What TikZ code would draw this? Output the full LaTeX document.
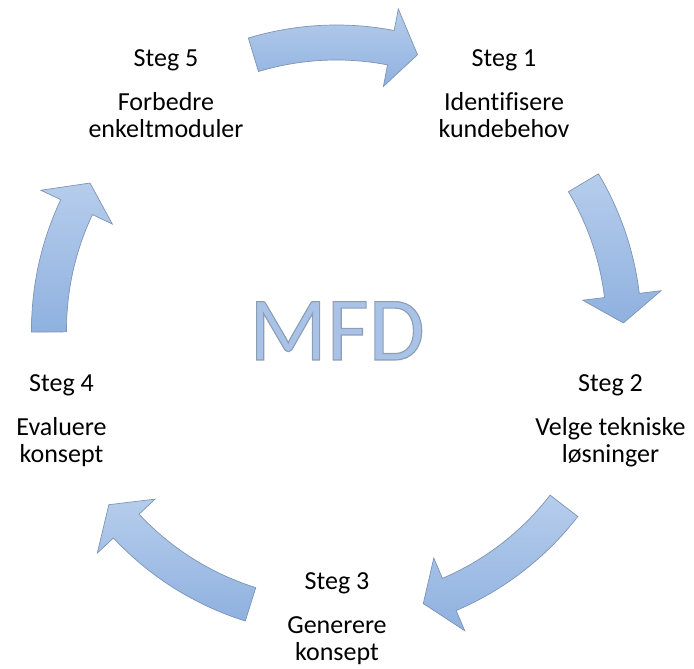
\documentclass[tikz,border=0pt]{standalone}
\usepackage{fontspec}
\setmainfont[Ligatures=NoCommon]{Carlito}
\usetikzlibrary{calc}

\definecolor{arrowtop}{HTML}{B6CDEC}
\definecolor{arrowbot}{HTML}{8FB1DF}
\definecolor{arrowedge}{HTML}{7E94B4}
\definecolor{mfdfill}{HTML}{A8C3E7}

\tikzset{
  cyclearrow/.style={top color=arrowtop, bottom color=arrowbot,
    draw=arrowedge, line width=0.7pt, line join=miter},
  steptitle/.style={anchor=base, inner sep=0pt, font=\fontsize{26}{27}\selectfont},
  steptext/.style={anchor=base, inner sep=0pt, font=\fontsize{26}{27}\selectfont},
}

% filled text with a thin grey stroke (text render mode 2)
\newcommand{\outlinedtext}[1]{%
  \textcolor{mfdfill}{\special{pdf:literal 0.557 0.616 0.698 RG 1.1 w 2 Tr}#1\special{pdf:literal 0 Tr}}}

% curved block arrow around (O): tail angle, head base angle, tip angle
\newcommand{\cyclearrowpath}[3]{%
  \path[cyclearrow]
    ([shift={(O)}]#1:305pt) arc[start angle=#1, end angle=#2, radius=305pt]
    -- ([shift={(O)}]#2:327pt)
    -- ([shift={(O)}]#3:287pt)
    -- ([shift={(O)}]#2:248pt)
    -- ([shift={(O)}]#2:270pt)
    arc[start angle=#2, end angle=#1, radius=270pt]
    -- cycle;}

% step label: name, x, title baseline, title, first line, second line
\newcommand{\steplabel}[6]{%
  \node[steptitle] (#1t) at (#2pt,#3pt) {#4};
  \node[steptext] (#1a) at (#2pt,#3pt-43.5pt) {#5};
  \node[steptext] (#1b) at (#2pt,#3pt-70.5pt) {#6};}

\begin{document}
\begin{tikzpicture}[x=1pt,y=1pt]
\useasboundingbox (0,0) rectangle (694,669);
\coordinate (O) at (336.5,339);

% arrows between the steps
\cyclearrowpath{106.8}{79.1}{73.6}
\cyclearrowpath{30.8}{6.9}{1.4}
\cyclearrowpath{-37.7}{-66.9}{-72.4}
\cyclearrowpath{252.6}{223.0}{217.5}
\cyclearrowpath{180.4}{154.7}{149.2}

% centre label
\node[anchor=base, inner sep=0pt, font=\fontsize{91}{91}\selectfont] (mfd) at (337,309)
  {\outlinedtext{MFD}};

% steps
\steplabel{s1}{504}{602.3}{Steg 1}{Identifisere}{kundebehov}
\steplabel{s2}{610.5}{277.3}{Steg 2}{Velge tekniske}{løsninger}
\steplabel{s3}{337}{79}{Steg 3}{Generere}{konsept}
\steplabel{s4}{61.5}{277.3}{Steg 4}{Evaluere}{konsept}
\steplabel{s5}{166}{602.3}{Steg 5}{Forbedre}{enkeltmoduler}
\end{tikzpicture}
\end{document}
